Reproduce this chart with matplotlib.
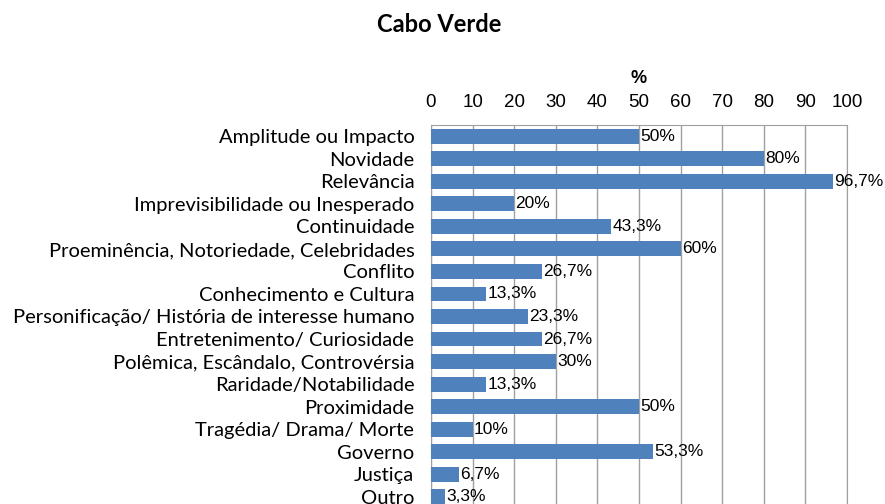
import matplotlib
matplotlib.use("Agg")
import matplotlib.pyplot as plt

categories = ["Amplitude ou Impacto", "Novidade", "Relevância",
              "Imprevisibilidade ou Inesperado", "Continuidade",
              "Proeminência, Notoriedade, Celebridades", "Conflito",
              "Conhecimento e Cultura",
              "Personificação/ História de interesse humano",
              "Entretenimento/ Curiosidade",
              "Polêmica, Escândalo, Controvérsia", "Raridade/Notabilidade",
              "Proximidade", "Tragédia/ Drama/ Morte", "Governo", "Justiça",
              "Outro"]
values = [50, 80, 96.7, 20, 43.3, 60, 26.7, 13.3, 23.3, 26.7, 30, 13.3, 50,
          10, 53.3, 6.7, 3.3]
labels = ["50%", "80%", "96,7%", "20%", "43,3%", "60%", "26,7%", "13,3%",
          "23,3%", "26,7%", "30%", "13,3%", "50%", "10%", "53,3%", "6,7%",
          "3,3%"]
xticks = [0, 10, 20, 30, 40, 50, 60, 70, 80, 90, 100]

fig = plt.figure(figsize=(8.85, 5.04), dpi=100)
ax = fig.add_axes([431/885, 1 - 508/504, 416/885, 383/504])

y = list(range(len(categories)))
ax.barh(y, values, height=0.66, color="#4F81BD", zorder=3)
for yi, v, lab in zip(y, values, labels):
    ax.text(v + 0.3, yi, lab, va="center", ha="left", fontsize=12.5,
            family="Liberation Sans", zorder=4)

ax.set_xlim(0, 100)
ax.set_ylim(len(categories) - 0.5, -0.5)
ax.set_xticks(xticks)
ax.xaxis.tick_top()
ax.xaxis.set_label_position("top")
ax.set_xlabel("%", fontsize=13, fontweight="bold", family="Liberation Sans",
              labelpad=8)
ax.tick_params(axis="x", length=0, pad=10, labelsize=13.5)
for t in ax.get_xticklabels():
    t.set_family("Liberation Sans")
ax.set_yticks(y)
ax.set_yticklabels(categories, family="Lato", fontsize=14.5)
ax.tick_params(axis="y", length=0, pad=12)
ax.grid(axis="x", color="#A0A0A0", linewidth=1, zorder=0)
for s in ax.spines.values():
    s.set_color("#A0A0A0")

fig.text(439/885, 1 - 24/504, "Cabo Verde", ha="center", va="center",
         fontsize=17, fontweight="bold", family="Lato")

fig.savefig("out.png", dpi=100)
